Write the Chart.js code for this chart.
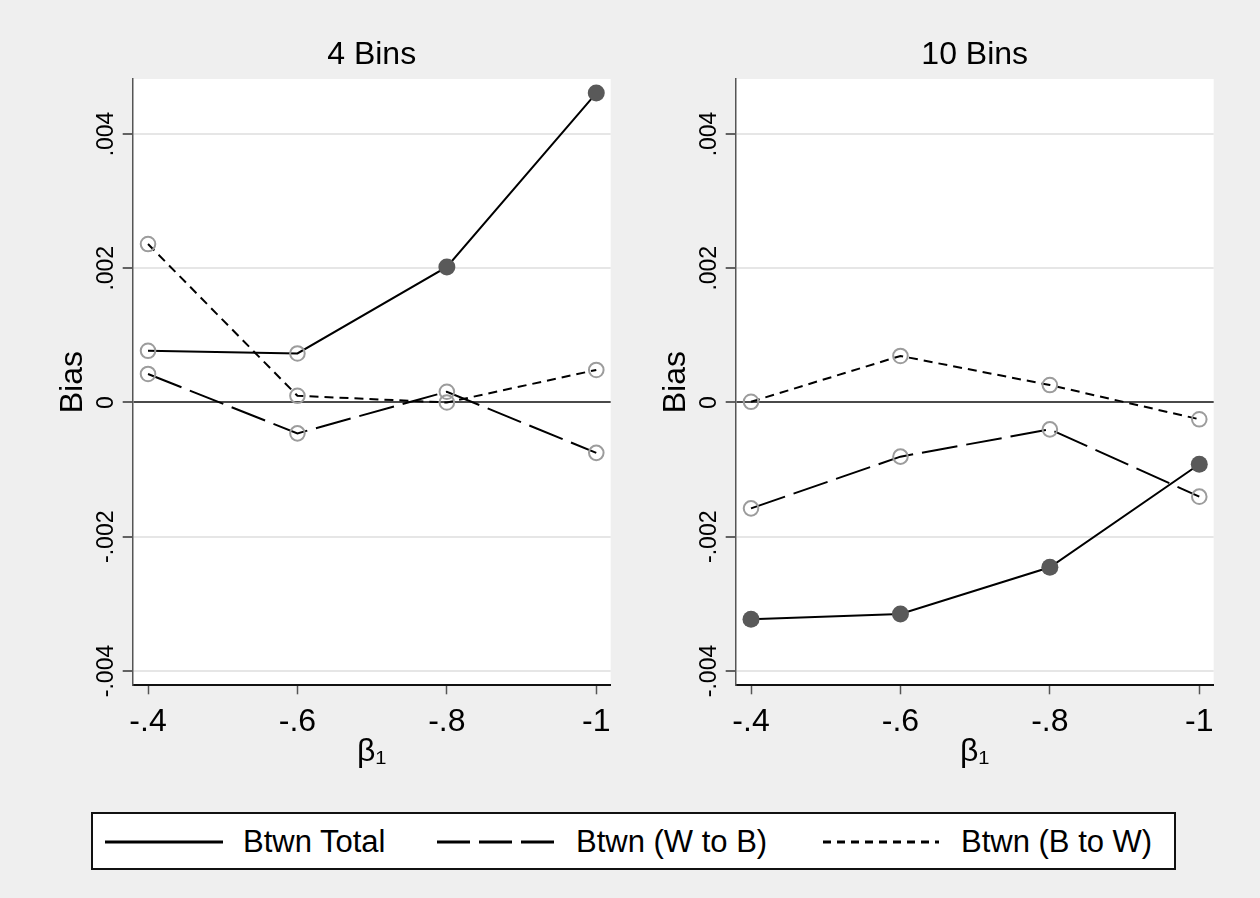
<!DOCTYPE html>
<html lang="en">
<head>
  <meta charset="UTF-8" />
  <title>Bias by number of bins</title>
  <script src="https://cdn.jsdelivr.net/npm/chart.js"></script>
  <style>
    body {
      margin: 0;
      width: 1260px;
      height: 898px;
      overflow: hidden;
      position: relative;
      background: #efefef;
      font-family: 'Liberation Sans', Arial, sans-serif;
    }

    .panel {
      position: absolute;
      top: 0;
      width: 630px;
      height: 790px;
    }

    #legend {
      position: absolute;
      left: 91px;
      top: 812px;
      width: 1081px;
      height: 54px;
      background: #fff;
      border: 2px solid #111;
    }

    #legend svg, #legend span {
      position: absolute;
    }

    #legend svg {
      top: 25px;
    }

    #legend span {
      top: 0;
      line-height: 56px;
      font-size: 31px;
      color: #000;
      white-space: nowrap;
    }
  </style>
</head>
<body>
  <div class="panel" style="left: 0px;"><canvas id="bins4"></canvas></div>
  <div class="panel" style="left: 603px;"><canvas id="bins10"></canvas></div>

  <div id="legend">
    <svg style="left: 12px;" width="118" height="6"><line x1="0" y1="3" x2="118" y2="3" stroke="#000" stroke-width="3"/></svg>
    <span style="left: 150px;">Btwn Total</span>
    <svg style="left: 344px;" width="118" height="6"><line x1="0" y1="3" x2="118" y2="3" stroke="#000" stroke-width="3" stroke-dasharray="33 9"/></svg>
    <span style="left: 483px;">Btwn (W to B)</span>
    <svg style="left: 730px;" width="116" height="6"><line x1="0" y1="3" x2="116" y2="3" stroke="#000" stroke-width="3" stroke-dasharray="8 6"/></svg>
    <span style="left: 868px;">Btwn (B to W)</span>
  </div>

  <script>
    // beta_1 values on the x axis (drawn right to left: -.4 ... -1)
    const betaValues = [-0.4, -0.6, -0.8, -1];
    const xTicks = [-0.4, -0.6, -0.8, -1];
    const yTicks = [-0.004, -0.002, 0, 0.002, 0.004];
    const xRange = [-1.0193, -0.3795];
    const yRange = [-0.004213, 0.004819];

    const panelTitles = ['4 Bins', '10 Bins'];

    // 4 bins
    const total4 = [0.00077, 0.00073, 0.00202, 0.00461];
    const wToB4 = [0.000425, -0.00046, 0.00016, -0.00075];
    const bToW4 = [0.00236, 0.0001, 0.0, 0.000485];
    const filled4 = [false, false, true, true];

    // 10 bins
    const total10 = [-0.00323, -0.00315, -0.002455, -0.00092];
    const wToB10 = [-0.001577, -0.000807, -0.0004, -0.001403];
    const bToW10 = [0.00001, 0.000693, 0.00026, -0.00025];
    const filled10 = [true, true, true, true];

    const FONT = "'Liberation Sans', Arial, sans-serif";

    function fmtX(v) {
      if (v === -1) return '-1';
      return '-' + String(Math.abs(v)).replace(/^0/, '');
    }

    function fmtY(v) {
      if (v === 0) return '0';
      return (v < 0 ? '-' : '') + String(Math.abs(v)).replace(/^0/, '');
    }

    function markers(filled) {
      return {
        pointRadius: filled.map(f => f ? 8.5 : 7.3),
        pointHoverRadius: filled.map(f => f ? 8.5 : 7.3),
        pointBackgroundColor: filled.map(f => f ? '#595959' : 'rgba(0,0,0,0)'),
        pointBorderColor: filled.map(f => f ? '#595959' : '#9c9c9c'),
        pointBorderWidth: filled.map(f => f ? 0 : 2)
      };
    }

    function series(label, values, dash, filled) {
      return Object.assign({
        label: label,
        data: betaValues.map((x, i) => ({ x: x, y: values[i] })),
        borderColor: '#000',
        borderWidth: 2,
        borderDash: dash,
        tension: 0,
        fill: false
      }, markers(filled));
    }

    // white plot region, rotated y labels and panel title
    const panelDecor = {
      id: 'panelDecor',
      beforeDraw(chart) {
        const { ctx, chartArea: a } = chart;
        ctx.save();
        ctx.fillStyle = '#fff';
        ctx.fillRect(a.left, a.top, a.right - a.left, a.bottom - a.top);
        ctx.restore();
      },
      afterDraw(chart, args, opts) {
        const { ctx, chartArea: a } = chart;
        const y = chart.scales.y;
        ctx.save();
        ctx.fillStyle = '#000';
        ctx.font = '23px ' + FONT;
        ctx.textAlign = 'center';
        ctx.textBaseline = 'alphabetic';
        y.ticks.forEach(t => {
          ctx.save();
          ctx.translate(y.right - 20, y.getPixelForValue(t.value));
          ctx.rotate(-Math.PI / 2);
          ctx.fillText(fmtY(t.value), 0, 0);
          ctx.restore();
        });
        ctx.font = '32px ' + FONT;
        ctx.textBaseline = 'middle';
        ctx.fillText(opts.text, (a.left + a.right) / 2, 55);
        ctx.restore();
      }
    };

    function makePanel(id, title, total, wToB, bToW, filledTotal) {
      const none = betaValues.map(() => false);
      return new Chart(document.getElementById(id), {
        type: 'line',
        data: {
          datasets: [
            series('Btwn Total', total, [], filledTotal),
            series('Btwn (W to B)', wToB, [36, 9], none),
            series('Btwn (B to W)', bToW, [9, 6], none)
          ]
        },
        options: {
          responsive: true,
          maintainAspectRatio: false,
          animation: false,
          layout: { padding: { top: 79, right: 19.3, bottom: 0, left: 0 } },
          plugins: {
            legend: { display: false },
            tooltip: { enabled: false },
            panelDecor: { text: title }
          },
          scales: {
            x: {
              type: 'linear',
              reverse: true,
              min: xRange[0],
              max: xRange[1],
              afterBuildTicks: s => { s.ticks = xTicks.map(v => ({ value: v })); },
              afterFit: s => { s.height = 104.7; },
              grid: { drawOnChartArea: false, drawTicks: true, tickLength: 9, tickColor: '#555', tickWidth: 1.5 },
              border: { display: true, color: '#111', width: 2 },
              ticks: {
                autoSkip: false,
                maxRotation: 0,
                padding: 8.5,
                color: '#000',
                font: { family: FONT, size: 32 },
                callback: v => fmtX(v)
              },
              title: {
                display: true,
                text: 'β₁',
                color: '#000',
                font: { family: FONT, size: 32 },
                padding: { top: 0, bottom: 19 }
              }
            },
            y: {
              type: 'linear',
              min: yRange[0],
              max: yRange[1],
              afterBuildTicks: s => { s.ticks = yTicks.map(v => ({ value: v })); },
              afterFit: s => { s.width = 132.7; },
              grid: {
                color: c => (c.tick && c.tick.value === 0) ? '#4a4a4a' : '#e6e6e6',
                lineWidth: 2,
                drawTicks: true,
                tickLength: 10,
                tickColor: '#333',
                tickWidth: 1.5
              },
              border: { display: true, color: '#555', width: 1.5 },
              ticks: { display: false },
              title: {
                display: true,
                text: 'Bias',
                color: '#000',
                font: { family: FONT, size: 32 },
                padding: { top: 54.3, bottom: 0 }
              }
            }
          }
        },
        plugins: [panelDecor]
      });
    }

    makePanel('bins4', panelTitles[0], total4, wToB4, bToW4, filled4);
    makePanel('bins10', panelTitles[1], total10, wToB10, bToW10, filled10);
  </script>
</body>
</html>
